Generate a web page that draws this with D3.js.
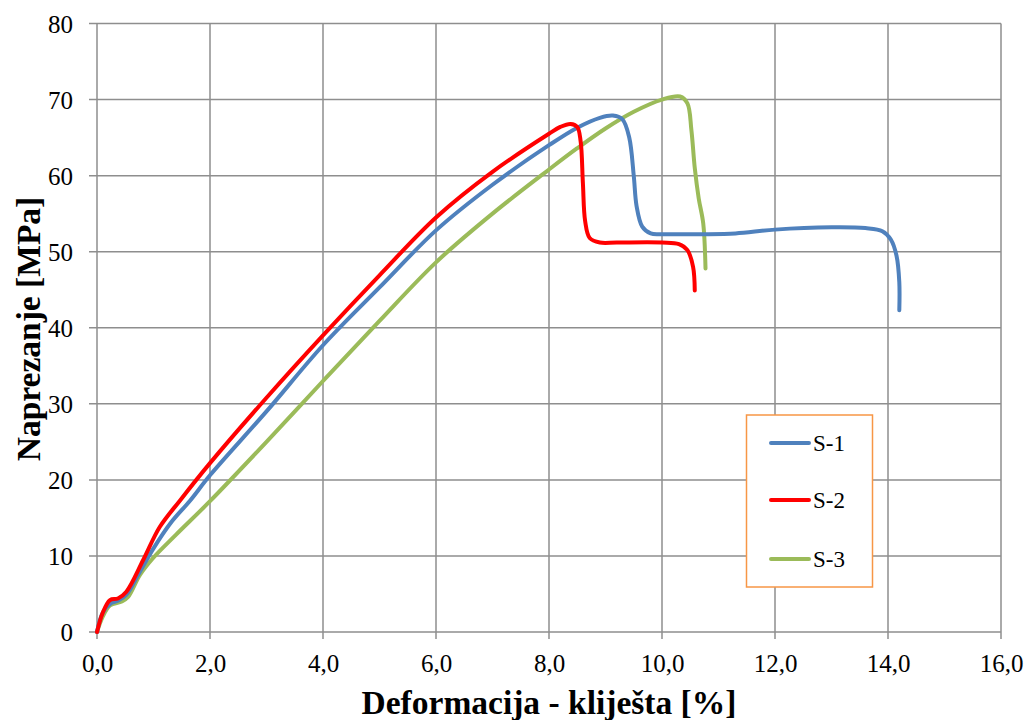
<!DOCTYPE html>
<html><head><meta charset="utf-8">
<script src="https://cdn.jsdelivr.net/npm/d3@7/dist/d3.min.js"></script>
<style>body{margin:0;background:#fff}svg{display:block}</style>
</head><body>
<svg id="c" width="1028" height="720"></svg>
<script>
const xTicks = [0,2,4,6,8,10,12,14,16];
const yTicks = [0,10,20,30,40,50,60,70,80];
const seriesNames = ["S-1","S-2","S-3"];
const seriesColors = ["#4f81bd","#ff0000","#9bbb59"];
const s1x = [0,0.1,0.25,0.37,0.52,0.75,1.0,1.3,1.65,2.0,3.0,4.0,5.0,6.0,7.0,8.0,8.5,8.9,9.13,9.3,9.42,9.5,9.55,9.65,9.8,10.0,10.7,11.3,12.0,13.0,13.6,13.9,14.05,14.15,14.2,14.2];
const s1y = [0,2.5,3.8,4.1,4.9,7.8,11.0,14.3,17.3,20.6,29.0,37.7,45.3,52.8,58.8,64.0,66.3,67.6,67.9,67.4,65,60,56,53.3,52.4,52.3,52.3,52.4,52.9,53.2,53.1,52.7,51.6,49.5,46,42.3];
const s2x = [0,0.1,0.23,0.37,0.52,0.82,1.11,1.47,2.0,3.0,4.0,5.0,6.0,7.0,8.0,8.2,8.38,8.5,8.56,8.6,8.64,8.72,8.9,9.2,10.0,10.3,10.45,10.55,10.58];
const s2y = [0,2.5,4.2,4.4,5.3,9.5,13.8,17.3,22.2,30.8,39.0,46.9,54.5,60.5,65.5,66.4,66.8,66.4,64.5,59,54,51.8,51.2,51.2,51.2,51.0,50.2,48,44.9];
const s3x = [0,0.1,0.23,0.44,0.55,0.76,0.99,1.4,2.0,3.0,4.0,5.0,6.0,7.0,8.0,8.5,9.0,9.5,10.0,10.32,10.45,10.52,10.58,10.65,10.73,10.77];
const s3y = [0,2.0,3.5,4.0,4.6,7.5,9.7,12.8,17.2,25,33.0,40.9,48.6,55.0,60.8,63.6,66.2,68.4,70.0,70.4,69.5,66,61,57,53.7,47.8];

const svg = d3.select("#c");
const x = d3.scaleLinear().domain([0,16]).range([97,1001]);
const y = d3.scaleLinear().domain([0,80]).range([632,23.5]);
const grid = "#8e8e8e";
const serif = "'Liberation Serif','Times New Roman',serif";

// gridlines
svg.append("g").selectAll("line").data(yTicks).join("line")
  .attr("x1",89).attr("x2",1001).attr("y1",d=>y(d)).attr("y2",d=>y(d))
  .attr("stroke",grid).attr("stroke-width",1.5);
svg.append("g").selectAll("line").data(xTicks).join("line")
  .attr("x1",d=>x(d)).attr("x2",d=>x(d)).attr("y1",y(80)).attr("y2",639)
  .attr("stroke",grid).attr("stroke-width",1.5);

// tick labels via d3 axes
const fmtX = d=>d3.format(".1f")(d).replace(".",",");
const ax = svg.append("g").attr("transform","translate(0,632)")
  .call(d3.axisBottom(x).tickValues(xTicks).tickFormat(fmtX).tickSize(0).tickPadding(22));
const ay = svg.append("g").attr("transform","translate(97,0)")
  .call(d3.axisLeft(y).tickValues(yTicks).tickSize(0).tickPadding(24));
[ax,ay].forEach(g=>{g.select(".domain").remove();
  g.selectAll("text").attr("font-family",serif).attr("font-size",25).attr("fill","#000");});
ay.selectAll("text").attr("dy","0.35em");

// series
const line = d3.line().x(d=>x(d[0])).y(d=>y(d[1])).curve(d3.curveCatmullRom.alpha(0.5));
const data = [d3.zip(s1x,s1y), d3.zip(s2x,s2y), d3.zip(s3x,s3y)];
[2,0,1].forEach(i=>{
  svg.append("path").datum(data[i]).attr("d",line).attr("fill","none")
    .attr("stroke",seriesColors[i]).attr("stroke-width",4)
    .attr("stroke-linejoin","round").attr("stroke-linecap","round");
});

// axis titles
svg.append("text").attr("x",549).attr("y",714).attr("text-anchor","middle")
  .attr("font-family",serif).attr("font-weight","bold").attr("font-size",33.5)
  .text("Deformacija - kliješta [%]");
svg.append("text").attr("transform","translate(40,329) rotate(-90)").attr("text-anchor","middle")
  .attr("font-family",serif).attr("font-weight","bold").attr("font-size",33.5)
  .text("Naprezanje [MPa]");

// legend
const lg = svg.append("g");
lg.append("rect").attr("x",746.5).attr("y",415).attr("width",126).attr("height",172)
  .attr("fill","#fff").attr("stroke","#f79646").attr("stroke-width",1.5);
const ly = [443,500,559];
seriesNames.forEach((n,i)=>{
  lg.append("line").attr("x1",771).attr("x2",809).attr("y1",ly[i]).attr("y2",ly[i])
    .attr("stroke",seriesColors[i]).attr("stroke-width",4).attr("stroke-linecap","round");
  lg.append("text").attr("x",813).attr("y",ly[i]).attr("dy","0.35em")
    .attr("font-family",serif).attr("font-size",23).text(n);
});
</script>
</body></html>
